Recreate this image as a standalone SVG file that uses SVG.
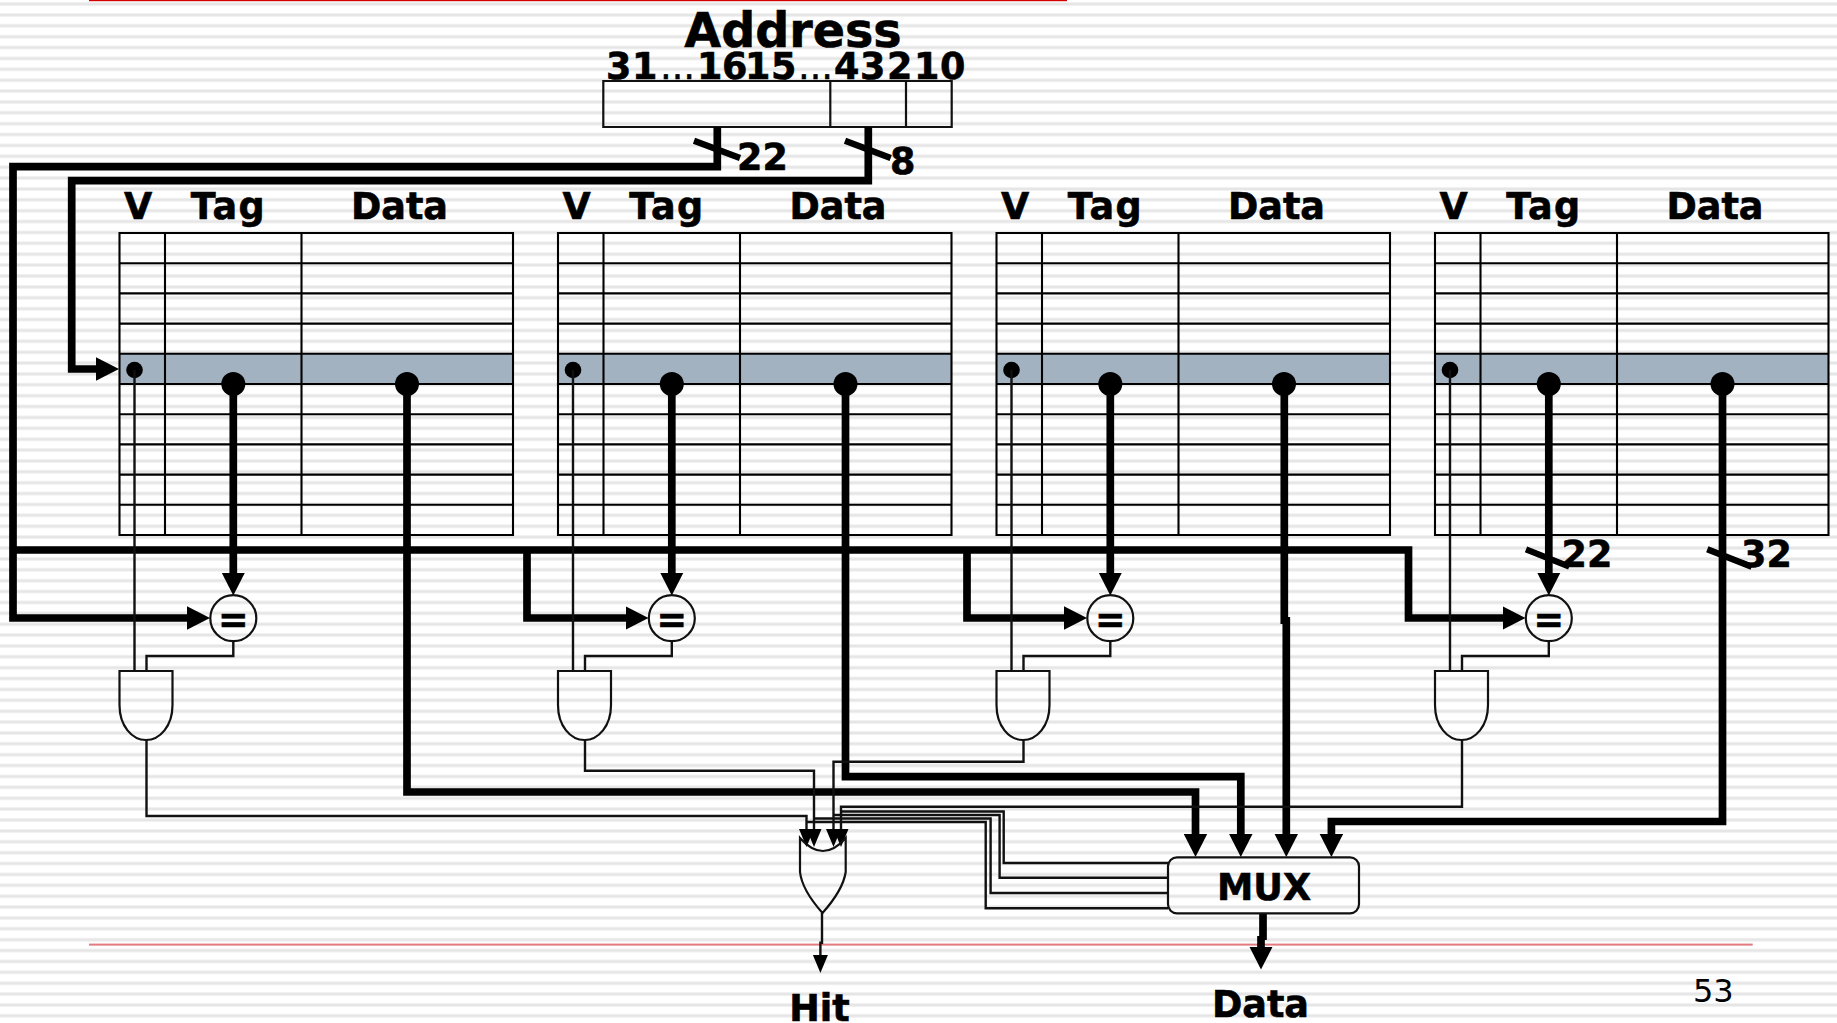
<svg xmlns="http://www.w3.org/2000/svg" width="1837" height="1023" viewBox="0 0 1837 1023">
<style>
text{font-family:"DejaVu Sans","Liberation Sans",sans-serif;font-weight:700;font-size:36.5px;fill:#000;stroke:#000;stroke-width:.6}
.m{text-anchor:middle}
.tag{letter-spacing:1.5px}
.ell{font-weight:400;font-size:35px}
.grid{fill:none;stroke:#000;stroke-width:2.1}
.thin{fill:none;stroke:#111;stroke-width:2.4}
.thick{fill:none;stroke:#000;stroke-width:7.7}
.slash{fill:none;stroke:#000;stroke-width:6.3}
.gate{fill:none;stroke:#111;stroke-width:2.2}
.dot{fill:#000}
</style>
<defs>
<marker id="big" markerUnits="userSpaceOnUse" markerWidth="24" markerHeight="24" viewBox="0 0 24 24" refX="1" refY="12" orient="auto"><path d="M0 0.3L23 12L0 23.7Z" fill="#000"/></marker>
<marker id="small" markerUnits="userSpaceOnUse" markerWidth="19" markerHeight="16" viewBox="0 0 19 16" refX="1" refY="8" orient="auto"><path d="M0 0.5L18 8L0 15.5Z" fill="#000"/></marker>
<g id="grid-tpl">
<rect x="119.5" y="353.8" width="393.5" height="30.2" fill="#a3b2c1"/>
<path class="grid" d="M119.5 233H513V535H119.5ZM165 233V535M301.5 233V535M119.5 263.2H513M119.5 293.4H513M119.5 323.6H513M119.5 353.8H513M119.5 384H513M119.5 414.2H513M119.5 444.4H513M119.5 474.6H513M119.5 504.8H513"/>
</g>
<g id="eq-tpl">
<circle cx="233.3" cy="618.2" r="23" class="gate"/>
</g>
<path id="and-tpl" class="gate" d="M119.5 671H172.5V705C172.5 726 160 740 146 740C132 740 119.5 726 119.5 705Z"/>
<path id="stripe-lines" d="M0 4H1837M0 14.88H1837M0 25.76H1837M0 36.64H1837M0 47.52H1837M0 58.4H1837M0 69.28H1837M0 80.16H1837M0 91.04H1837M0 101.92H1837M0 112.8H1837M0 123.68H1837M0 134.56H1837M0 145.44H1837M0 156.32H1837M0 167.2H1837M0 178.08H1837M0 188.96H1837M0 199.84H1837M0 210.72H1837M0 221.6H1837M0 232.48H1837M0 243.36H1837M0 254.24H1837M0 265.12H1837M0 276H1837M0 286.88H1837M0 297.76H1837M0 308.64H1837M0 319.52H1837M0 330.4H1837M0 341.28H1837M0 352.16H1837M0 363.04H1837M0 373.92H1837M0 384.8H1837M0 395.68H1837M0 406.56H1837M0 417.44H1837M0 428.32H1837M0 439.2H1837M0 450.08H1837M0 460.96H1837M0 471.84H1837M0 482.72H1837M0 493.6H1837M0 504.48H1837M0 515.36H1837M0 526.24H1837M0 537.12H1837M0 548H1837M0 558.88H1837M0 569.76H1837M0 580.64H1837M0 591.52H1837M0 602.4H1837M0 613.28H1837M0 624.16H1837M0 635.04H1837M0 645.92H1837M0 656.8H1837M0 667.68H1837M0 678.56H1837M0 689.44H1837M0 700.32H1837M0 711.2H1837M0 722.08H1837M0 732.96H1837M0 743.84H1837M0 754.72H1837M0 765.6H1837M0 776.48H1837M0 787.36H1837M0 798.24H1837M0 809.12H1837M0 820H1837M0 830.88H1837M0 841.76H1837M0 852.64H1837M0 863.52H1837M0 874.4H1837M0 885.28H1837M0 896.16H1837M0 907.04H1837M0 917.92H1837M0 928.8H1837M0 939.68H1837M0 950.56H1837M0 961.44H1837M0 972.32H1837M0 983.2H1837M0 994.08H1837M0 1004.96H1837M0 1015.84H1837"/>
</defs>
<rect width="1837" height="1023" fill="#fff"/>
<use href="#stripe-lines" fill="none" stroke="#f1f1f1" stroke-width="4"/>
<use href="#stripe-lines" fill="none" stroke="#e6e6e6" stroke-width="2"/>
<rect id="rule-top" x="89" y="0" width="978" height="1.2" fill="#d40000"/>
<rect id="rule-bottom" x="89" y="943.6" width="1663.7" height="2" fill="#e27a80"/>

<g id="address">
<text class="m" x="793" y="47" style="font-size:47.6px">Address</text>
<text y="78.5"><tspan x="606">3</tspan><tspan x="632">1</tspan><tspan x="660" class="ell">…</tspan><tspan x="697">1</tspan><tspan x="722">6</tspan></text>
<text y="78.5"><tspan x="745">1</tspan><tspan x="771">5</tspan><tspan x="798" class="ell">…</tspan><tspan x="834">4</tspan></text>
<text x="860" y="78.5">3</text>
<text x="887" y="78.5">2</text>
<text x="914" y="78.5">1</text>
<text x="940" y="78.5">0</text>
<path class="gate" d="M603.3 81H951.7V127H603.3ZM830.3 81V127M906 81V127"/>
</g>

<g id="table-1"><use href="#grid-tpl"/><text class="m" x="138" y="219">V</text><text class="m tag" x="228.5" y="219">Tag</text><text class="m" x="399.5" y="219">Data</text></g>
<g id="table-2"><use href="#grid-tpl" x="438.5"/><text class="m" x="576.5" y="219">V</text><text class="m tag" x="667" y="219">Tag</text><text class="m" x="838" y="219">Data</text></g>
<g id="table-3"><use href="#grid-tpl" x="877"/><text class="m" x="1015" y="219">V</text><text class="m tag" x="1105.5" y="219">Tag</text><text class="m" x="1276.5" y="219">Data</text></g>
<g id="table-4"><use href="#grid-tpl" x="1315.5"/><text class="m" x="1453.5" y="219">V</text><text class="m tag" x="1544" y="219">Tag</text><text class="m" x="1715" y="219">Data</text></g>

<g id="connectors">
<path class="thick" d="M717.3 127V166.7H13V618H188" marker-end="url(#big)"/>
<path class="thick" d="M868.3 127V180.7H71.7V369H97" marker-end="url(#big)"/>
<path class="thick" d="M13 550H1408.5V618H1503.5" marker-end="url(#big)"/>
<path class="thick" d="M527 550V618H626.5" marker-end="url(#big)"/>
<path class="thick" d="M967 550V618H1065" marker-end="url(#big)"/>
<path class="slash" d="M694 140.7L740 158M845 140.7L890.7 158M1526 549.3L1569.3 566.7M1707.3 549.3L1751.7 566.7"/>
<g class="dots">
<circle class="dot" cx="134.5" cy="370" r="8.3"/><circle class="dot" cx="573" cy="370" r="8.3"/><circle class="dot" cx="1011.5" cy="370" r="8.3"/><circle class="dot" cx="1450" cy="370" r="8.3"/>
<circle class="dot" cx="233.3" cy="384" r="12"/><circle class="dot" cx="671.8" cy="384" r="12"/><circle class="dot" cx="1110.3" cy="384" r="12"/><circle class="dot" cx="1548.8" cy="384" r="12"/>
<circle class="dot" cx="407" cy="384" r="12"/><circle class="dot" cx="845.5" cy="384" r="12"/><circle class="dot" cx="1284" cy="384" r="12"/><circle class="dot" cx="1722.5" cy="384" r="12"/>
</g>
<path class="thin" d="M134.5 370V671M573 370V671M1011.5 370V671M1450 370V671"/>
<path class="thick" d="M233.3 384V573.5" marker-end="url(#big)"/>
<path class="thick" d="M671.8 384V573.5" marker-end="url(#big)"/>
<path class="thick" d="M1110.3 384V573.5" marker-end="url(#big)"/>
<path class="thick" d="M1548.8 384V573.5" marker-end="url(#big)"/>
<path class="thin" d="M233.3 641V656H146.5V671M671.8 641V656H585V671M1110.3 641V656H1023.5V671M1548.8 641V656H1462V671"/>
<path class="thick" d="M407 384V792H1195.5V835" marker-end="url(#big)"/>
<path class="thick" d="M845.5 384V776.7H1240.8V835" marker-end="url(#big)"/>
<path class="thick" d="M1284.3 384V624"/>
<path class="thick" d="M1286.3 617V835" marker-end="url(#big)"/>
<path class="thick" d="M1722.5 384V821.5H1331.4V835" marker-end="url(#big)"/>
<path class="thin" d="M146.5 740V816H806.5V830" marker-end="url(#small)"/>
<path class="thin" d="M585 740V770.7H814V830" marker-end="url(#small)"/>
<path class="thin" d="M1023.5 740V761.7H833.5V830" marker-end="url(#small)"/>
<path class="thin" d="M1462 740V806.7H841V830" marker-end="url(#small)"/>
<path class="thin" d="M841 811.5H1003.7V863H1168M833.5 815H999.6V877.7H1168M814 818.5H990.6V893H1168M806.5 822H985.7V908.3H1168"/>
<path class="thin" d="M822 913V942.7H820.4V956" marker-end="url(#small)"/>
<path class="thick" d="M1263 913V940"/>
<path class="thick" d="M1261 936V947.5" marker-end="url(#big)"/>
</g>

<g id="eq-1"><use href="#eq-tpl"/><text class="m" x="233.3" y="632">=</text></g>
<g id="eq-2"><use href="#eq-tpl" x="438.5"/><text class="m" x="671.8" y="632">=</text></g>
<g id="eq-3"><use href="#eq-tpl" x="877"/><text class="m" x="1110.3" y="632">=</text></g>
<g id="eq-4"><use href="#eq-tpl" x="1315.5"/><text class="m" x="1548.8" y="632">=</text></g>
<g id="and-1"><use href="#and-tpl"/></g>
<g id="and-2"><use href="#and-tpl" x="438.5"/></g>
<g id="and-3"><use href="#and-tpl" x="877"/></g>
<g id="and-4"><use href="#and-tpl" x="1315.5"/></g>
<g id="or-gate"><path class="gate" d="M800 838V872Q802 890 822.5 913Q843 890 845.7 872V838Q823 864 800 838Z"/></g>
<g id="mux"><rect class="gate" x="1168" y="857.3" width="191" height="56" rx="9"/><text class="m" x="1264" y="900">MUX</text></g>

<g id="labels">
<text x="737" y="169.5">22</text>
<text x="890" y="173.5">8</text>
<text x="1561.5" y="566.7">22</text>
<text x="1741" y="566.7">32</text>
<text class="m" x="819.5" y="1020.5">Hit</text>
<text class="m" x="1260.5" y="1016.5">Data</text>
<text x="1693" y="1001.7" style="font-weight:400;font-size:32px;stroke:none">53</text>
</g>
</svg>
